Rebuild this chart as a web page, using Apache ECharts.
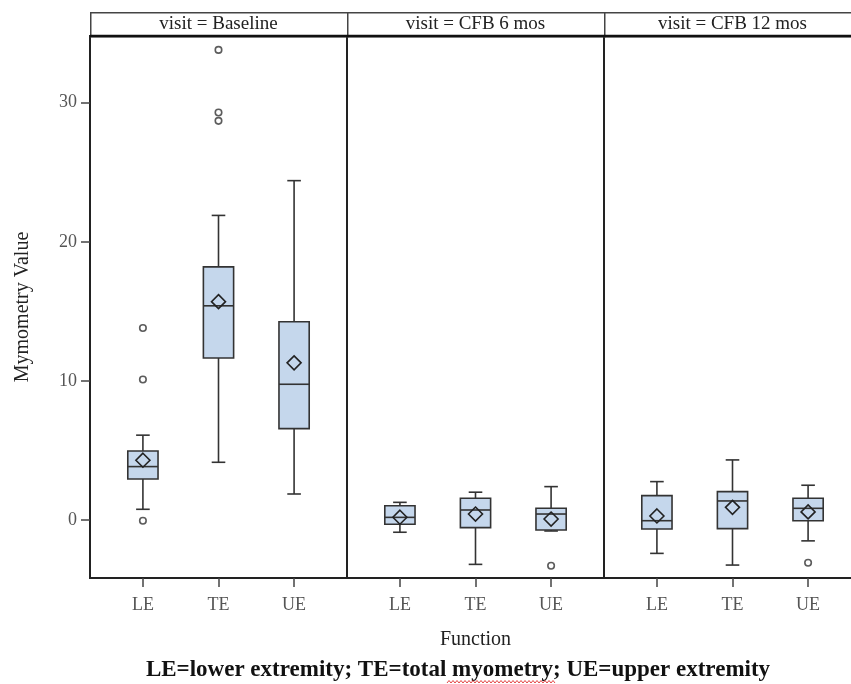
<!DOCTYPE html>
<html>
<head>
<meta charset="utf-8">
<script src="https://cdn.jsdelivr.net/npm/echarts@6/dist/echarts.min.js"></script>
<style>
html,body{margin:0;padding:0;background:#fff;}
#chart{width:851px;height:684px;}
</style>
</head>
<body>
<div id="chart"></div>
<script>
// ---- data ----
const categories = ['LE', 'TE', 'UE'];
const panelTitles = ['visit = Baseline', 'visit = CFB 6 mos', 'visit = CFB 12 mos'];
const yTicks = [0, 10, 20, 30];
// box stats per category: [low whisker, Q1, median, Q3, high whisker]
const baselineBox = [[0.77, 2.95, 3.84, 4.96, 6.1], [4.15, 11.65, 15.4, 18.2, 21.9], [1.87, 6.57, 9.76, 14.25, 24.4]];
const baselineMean = [4.3, 15.7, 11.3];
const baselineOutliers = [['LE', 13.8], ['LE', 10.1], ['LE', -0.05], ['TE', 33.8], ['TE', 29.3], ['TE', 28.7]];
const cfb6Box = [[-0.88, -0.31, 0.19, 1.03, 1.27], [-3.19, -0.55, 0.72, 1.56, 2.0], [-0.79, -0.72, 0.43, 0.84, 2.4]];
const cfb6Mean = [0.2, 0.43, 0.07];
const cfb6Outliers = [['UE', -3.29]];
const cfb12Box = [[-2.4, -0.65, -0.05, 1.75, 2.76], [-3.24, -0.62, 1.37, 2.04, 4.32], [-1.5, -0.05, 0.84, 1.56, 2.5]];
const cfb12Mean = [0.29, 0.91, 0.58];
const cfb12Outliers = [['UE', -3.07]];

const panelBoxes = [baselineBox, cfb6Box, cfb12Box];
const panelMeans = [baselineMean, cfb6Mean, cfb12Mean];
const panelOutliers = [baselineOutliers, cfb6Outliers, cfb12Outliers];

// ---- chart ----
const FONT = "'Liberation Serif', 'DejaVu Serif', serif";
const chart = echarts.init(document.getElementById('chart'), null, {renderer: 'canvas'});
const gridLeft = 90, gridW = 257, gridTop = 36, gridH = 542;

function renderBox(params, api) {
  const x = api.value(0);
  const lo = api.value(1), q1 = api.value(2), med = api.value(3), q3 = api.value(4), hi = api.value(5), mean = api.value(6);
  const halfW = api.size([0.2, 0])[0];
  const capW = api.size([0.09, 0])[0];
  const d = 7;
  const c = v => api.coord([x, v]);
  const cx = c(lo)[0];
  const yLo = c(lo)[1], yQ1 = c(q1)[1], yMed = c(med)[1], yQ3 = c(q3)[1], yHi = c(hi)[1], yMean = c(mean)[1];
  const ls = {stroke: '#333', lineWidth: 1.6, fill: null};
  return {
    type: 'group',
    children: [
      {type: 'line', shape: {x1: cx, y1: yHi, x2: cx, y2: yQ3}, style: ls},
      {type: 'line', shape: {x1: cx, y1: yQ1, x2: cx, y2: yLo}, style: ls},
      {type: 'line', shape: {x1: cx - capW, y1: yHi, x2: cx + capW, y2: yHi}, style: ls},
      {type: 'line', shape: {x1: cx - capW, y1: yLo, x2: cx + capW, y2: yLo}, style: ls},
      {type: 'rect', shape: {x: cx - halfW, y: yQ3, width: 2 * halfW, height: yQ1 - yQ3},
        style: {fill: '#c5d7ec', stroke: '#333', lineWidth: 1.6}},
      {type: 'line', shape: {x1: cx - halfW, y1: yMed, x2: cx + halfW, y2: yMed}, style: ls},
      {type: 'polygon', shape: {points: [[cx, yMean - d], [cx + d, yMean], [cx, yMean + d], [cx - d, yMean]]},
        style: {stroke: '#222', lineWidth: 1.6, fill: null}}
    ]
  };
}

const grids = [], xAxes = [], yAxes = [], series = [], graphics = [];
for (let p = 0; p < 3; p++) {
  grids.push({left: gridLeft + gridW * p, top: gridTop, height: gridH, width: gridW,
    outerBoundsMode: 'none',
    show: true, borderColor: '#222', borderWidth: 2, backgroundColor: 'transparent', containLabel: false});
  xAxes.push({
    type: 'value', gridIndex: p, min: 0.3, max: 3.7,
    axisLine: {show: false, onZero: false}, splitLine: {show: false},
    axisTick: {show: true, customValues: [1, 2, 3], length: 9, lineStyle: {color: '#444', width: 1.5}},
    axisLabel: {show: true, customValues: [1, 2, 3], margin: 18, color: '#555', fontSize: 18, fontFamily: FONT,
      formatter: v => categories[Math.round(v) - 1]}
  });
  yAxes.push({
    type: 'value', gridIndex: p, min: -4.17, max: 34.8,
    axisLine: {show: false, onZero: false}, splitLine: {show: false},
    axisTick: {show: p === 0, customValues: yTicks, length: 9, lineStyle: {color: '#444', width: 1.5}},
    axisLabel: {show: p === 0, customValues: yTicks, margin: 13, color: '#555', fontSize: 18, fontFamily: FONT},
    name: p === 0 ? 'Mymometry Value' : '', nameLocation: 'middle', nameGap: 57, nameRotate: 90,
    nameTextStyle: {color: '#222', fontSize: 20, fontFamily: FONT}
  });
  const boxData = panelBoxes[p].map((b, i) => [i + 1, b[0], b[1], b[2], b[3], b[4], panelMeans[p][i]]);
  series.push({
    type: 'custom', xAxisIndex: p, yAxisIndex: p, renderItem: renderBox,
    encode: {x: 0, y: [1, 2, 3, 4, 5, 6]}, data: boxData, silent: true, clip: false
  });
  series.push({
    type: 'scatter', xAxisIndex: p, yAxisIndex: p, symbol: 'circle', symbolSize: 6.5,
    itemStyle: {color: '#fff', borderColor: '#333', borderWidth: 1.6},
    data: panelOutliers[p].map(o => [categories.indexOf(o[0]) + 1, o[1]]), silent: true, z: 3
  });
  // header strip
  graphics.push({type: 'rect', left: gridLeft + gridW * p, top: 12,
    shape: {x: 0, y: 0, width: gridW, height: gridTop - 12},
    style: {fill: '#fff', stroke: '#444', lineWidth: 1.5}, z: 10});
  graphics.push({type: 'text', x: gridLeft + gridW * p + gridW / 2, y: 24, z: 11,
    style: {text: panelTitles[p], fill: '#222', font: '19px ' + FONT, textAlign: 'center', textVerticalAlign: 'middle'}});
}
graphics.push({type: 'line', shape: {x1: gridLeft, y1: gridTop, x2: 851, y2: gridTop}, style: {stroke: '#111', lineWidth: 2.5}, z: 12});
graphics.push({type: 'text', x: gridLeft + gridW * 1.5, y: 640,
  style: {text: 'Function', fill: '#222', font: '20px ' + FONT, textAlign: 'center', textVerticalAlign: 'middle'}});
graphics.push({type: 'text', x: 458, y: 670,
  style: {text: 'LE=lower extremity; TE=total myometry; UE=upper extremity', fill: '#111', font: 'bold 23px ' + FONT, textAlign: 'center', textVerticalAlign: 'middle'}});
// spell-check squiggle under "myometry"
const sq = [];
for (let xx = 447, k = 0; xx <= 556; xx += 2, k++) sq.push([xx, k % 2 ? 680.5 : 683]);
graphics.push({type: 'polyline', shape: {points: sq}, style: {stroke: '#e03030', lineWidth: 0.9, fill: null}});

chart.setOption({
  animation: false,
  backgroundColor: '#fff',
  grid: grids, xAxis: xAxes, yAxis: yAxes, series: series, graphic: graphics
});
</script>
</body>
</html>
